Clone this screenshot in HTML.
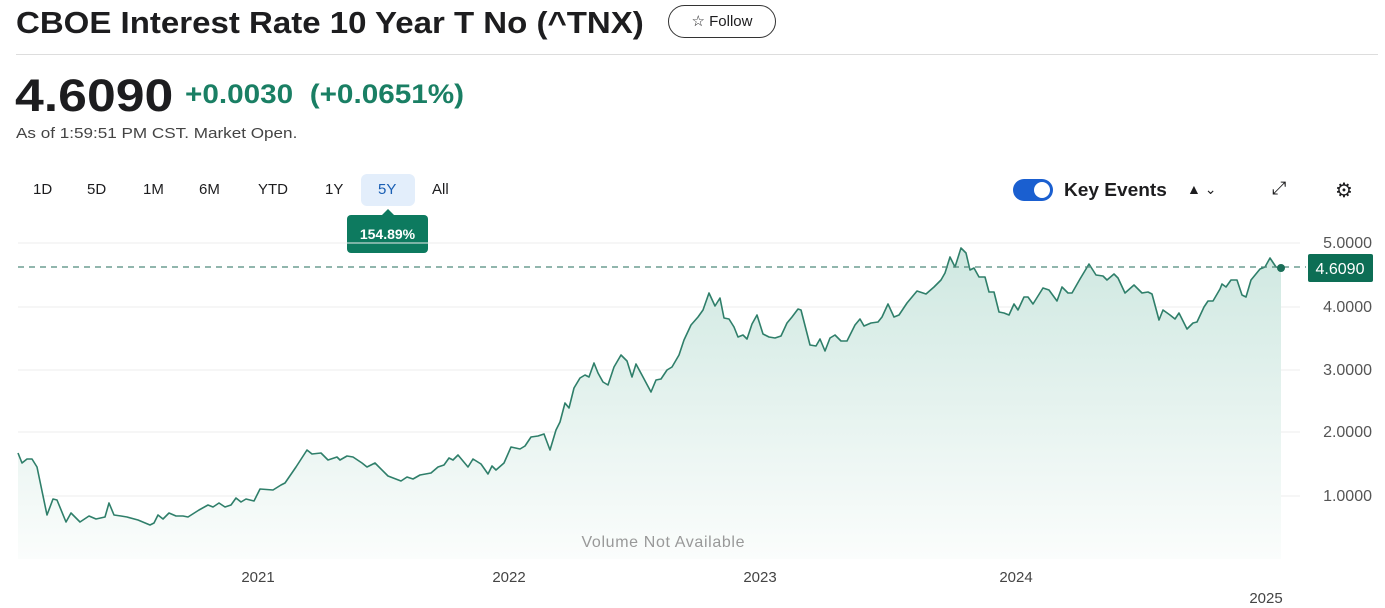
<!DOCTYPE html>
<html><head><meta charset="utf-8"><style>
body{margin:0;width:1385px;height:608px;background:#fff;font-family:"Liberation Sans",sans-serif;overflow:hidden;position:relative;color:#1d1d1f}
.a{position:absolute;white-space:nowrap;transform-origin:0 0}
</style></head><body>
<div class="a" style="left:16px;top:5px;font-size:31px;font-weight:bold;transform:scaleX(1.065)">CBOE Interest Rate 10 Year T No (^TNX)</div>
<div class="a" style="left:668px;top:5px;width:106px;height:31px;border:1.5px solid #333;border-radius:17px;font-size:15px;line-height:31px;text-align:center">☆ Follow</div>
<div class="a" style="left:16px;top:54px;width:1362px;height:1px;background:#ddd"></div>
<div class="a" style="left:15px;top:70px;font-size:45px;font-weight:bold;transform:scaleX(1.15)">4.6090</div>
<div class="a" style="left:185px;top:79px;font-size:27px;font-weight:bold;color:#1a7f64;transform:scaleX(1.1)">+0.0030 &nbsp;(+0.0651%)</div>
<div class="a" style="left:16px;top:125px;font-size:15px;color:#444;transform:scaleX(1.14)">As of 1:59:51 PM CST. Market Open.</div>
<div class="a" style="left:361px;top:174px;width:54px;height:32px;background:#e3eefb;border-radius:6px"></div>
<div class="a" style="top:181px;font-size:15px;left:0;width:500px">
<span class="a" style="left:33px">1D</span><span class="a" style="left:87px">5D</span><span class="a" style="left:143px">1M</span><span class="a" style="left:199px">6M</span><span class="a" style="left:258px">YTD</span><span class="a" style="left:325px">1Y</span><span class="a" style="left:378px;color:#1a5fb4">5Y</span><span class="a" style="left:432px">All</span></div>
<div class="a" style="left:347px;top:215px;width:81px;height:38px;background:#0d7a5f;border-radius:4px;color:#fff;font-size:14px;font-weight:bold;line-height:38px;text-align:center">154.89%</div>
<div class="a" style="left:382px;top:209px;width:0;height:0;border-left:6px solid transparent;border-right:6px solid transparent;border-bottom:6px solid #0d7a5f"></div>
<div class="a" style="left:1013px;top:179px;width:40px;height:22px;background:#1a5fd0;border-radius:11px"><div style="position:absolute;right:3px;top:3px;width:16px;height:16px;border-radius:50%;background:#fff"></div></div>
<div class="a" style="left:1064px;top:180px;font-size:18px;font-weight:bold;transform:scaleX(1.06)">Key Events</div>
<div class="a" style="left:1187px;top:181px;font-size:14px">▲ ⌄</div>
<div class="a" style="left:1272px;top:178px;font-size:18px">⤢</div>
<div class="a" style="left:1335px;top:178px;font-size:20px">⚙</div>
<svg class="a" style="left:0;top:0" width="1385" height="608">
<defs><linearGradient id="g" x1="0" y1="0" x2="0" y2="1"><stop offset="0" stop-color="#cfe8e1"/><stop offset="1" stop-color="#fbfdfc"/></linearGradient></defs>
<g stroke="#ececec" stroke-width="1">
<line x1="18" y1="243" x2="1300" y2="243"/><line x1="18" y1="307" x2="1300" y2="307"/><line x1="18" y1="370" x2="1300" y2="370"/><line x1="18" y1="432" x2="1300" y2="432"/><line x1="18" y1="496" x2="1300" y2="496"/></g>
<polygon fill="url(#g)" points="18,559 18,453 22,463 27,459 32,459 37,467 47,515 53,499 57,500 66,522 71,513 80,522 89,516 96,519 105,517 109,503 114,515 121,516 127,517 138,520 150,525 154,523 158,515 163,519 169,513 176,516 183,516 188,517 199,510 208,505 213,507 219,503 225,507 231,505 236,498 241,502 246,499 254,501 260,489 273,490 281,485 285,483 296,467 307,450 312,454 321,453 328,460 337,457 340,460 347,456 353,457 362,463 367,467 375,463 388,476 401,481 407,477 413,479 420,475 431,473 438,467 444,465 449,458 453,460 458,455 468,467 473,459 481,464 488,474 492,466 496,470 504,463 511,447 520,449 525,446 531,437 538,436 544,434 550,450 556,430 560,422 565,403 569,408 574,388 580,378 585,375 589,377 594,363 598,373 603,382 608,385 614,367 621,355 627,361 632,377 636,364 643,377 651,392 656,380 661,379 667,370 672,367 679,355 684,340 691,325 698,317 703,310 709,293 715,306 720,298 724,318 729,319 734,327 738,337 743,335 747,339 752,324 757,315 763,334 769,337 775,338 781,336 787,323 792,317 798,309 801,310 810,345 816,346 820,339 825,351 830,338 835,335 841,341 847,341 855,325 860,319 864,326 871,323 878,322 882,317 888,304 894,317 899,315 907,303 917,291 926,294 934,287 941,280 945,273 950,257 955,267 961,248 966,253 970,270 974,268 979,277 985,277 989,292 994,292 999,312 1004,313 1009,315 1014,304 1018,310 1024,297 1028,297 1033,304 1043,288 1049,290 1057,301 1062,287 1068,293 1072,293 1080,279 1089,264 1096,275 1103,276 1107,280 1114,274 1118,278 1125,293 1134,285 1142,293 1148,292 1152,294 1159,320 1163,310 1170,315 1175,319 1179,313 1187,329 1193,323 1197,322 1204,307 1208,301 1213,301 1220,289 1222,284 1226,287 1231,280 1237,280 1242,295 1246,297 1251,280 1260,269 1265,267 1270,258 1276,267 1281,268 1281,559"/>
<polyline fill="none" stroke="#2f7f6a" stroke-width="1.6" stroke-linejoin="round" points="18,453 22,463 27,459 32,459 37,467 47,515 53,499 57,500 66,522 71,513 80,522 89,516 96,519 105,517 109,503 114,515 121,516 127,517 138,520 150,525 154,523 158,515 163,519 169,513 176,516 183,516 188,517 199,510 208,505 213,507 219,503 225,507 231,505 236,498 241,502 246,499 254,501 260,489 273,490 281,485 285,483 296,467 307,450 312,454 321,453 328,460 337,457 340,460 347,456 353,457 362,463 367,467 375,463 388,476 401,481 407,477 413,479 420,475 431,473 438,467 444,465 449,458 453,460 458,455 468,467 473,459 481,464 488,474 492,466 496,470 504,463 511,447 520,449 525,446 531,437 538,436 544,434 550,450 556,430 560,422 565,403 569,408 574,388 580,378 585,375 589,377 594,363 598,373 603,382 608,385 614,367 621,355 627,361 632,377 636,364 643,377 651,392 656,380 661,379 667,370 672,367 679,355 684,340 691,325 698,317 703,310 709,293 715,306 720,298 724,318 729,319 734,327 738,337 743,335 747,339 752,324 757,315 763,334 769,337 775,338 781,336 787,323 792,317 798,309 801,310 810,345 816,346 820,339 825,351 830,338 835,335 841,341 847,341 855,325 860,319 864,326 871,323 878,322 882,317 888,304 894,317 899,315 907,303 917,291 926,294 934,287 941,280 945,273 950,257 955,267 961,248 966,253 970,270 974,268 979,277 985,277 989,292 994,292 999,312 1004,313 1009,315 1014,304 1018,310 1024,297 1028,297 1033,304 1043,288 1049,290 1057,301 1062,287 1068,293 1072,293 1080,279 1089,264 1096,275 1103,276 1107,280 1114,274 1118,278 1125,293 1134,285 1142,293 1148,292 1152,294 1159,320 1163,310 1170,315 1175,319 1179,313 1187,329 1193,323 1197,322 1204,307 1208,301 1213,301 1220,289 1222,284 1226,287 1231,280 1237,280 1242,295 1246,297 1251,280 1260,269 1265,267 1270,258 1276,267 1281,268"/>
<line x1="18" y1="267" x2="1306" y2="267" stroke="#4f8a7c" stroke-width="1.3" stroke-dasharray="6,5"/>
<circle cx="1281" cy="268" r="4" fill="#1a6e58"/>
<rect x="1308" y="254" width="65" height="28" rx="2" fill="#0d6e55"/>
<text x="1340" y="274" fill="#fff" font-size="16" font-family="Liberation Sans" text-anchor="middle">4.6090</text>
<g font-family="Liberation Sans" font-size="16" fill="#555" text-anchor="end">
<text x="1372" y="248">5.0000</text><text x="1372" y="312">4.0000</text><text x="1372" y="375">3.0000</text><text x="1372" y="437">2.0000</text><text x="1372" y="501">1.0000</text></g>
<text x="663" y="547" font-family="Liberation Sans" font-size="16" fill="#999" text-anchor="middle" textLength="163">Volume Not Available</text>
<g font-family="Liberation Sans" font-size="15" fill="#444" text-anchor="middle">
<text x="258" y="582">2021</text><text x="509" y="582">2022</text><text x="760" y="582">2023</text><text x="1016" y="582">2024</text><text x="1266" y="603">2025</text></g>
</svg>
</body></html>
